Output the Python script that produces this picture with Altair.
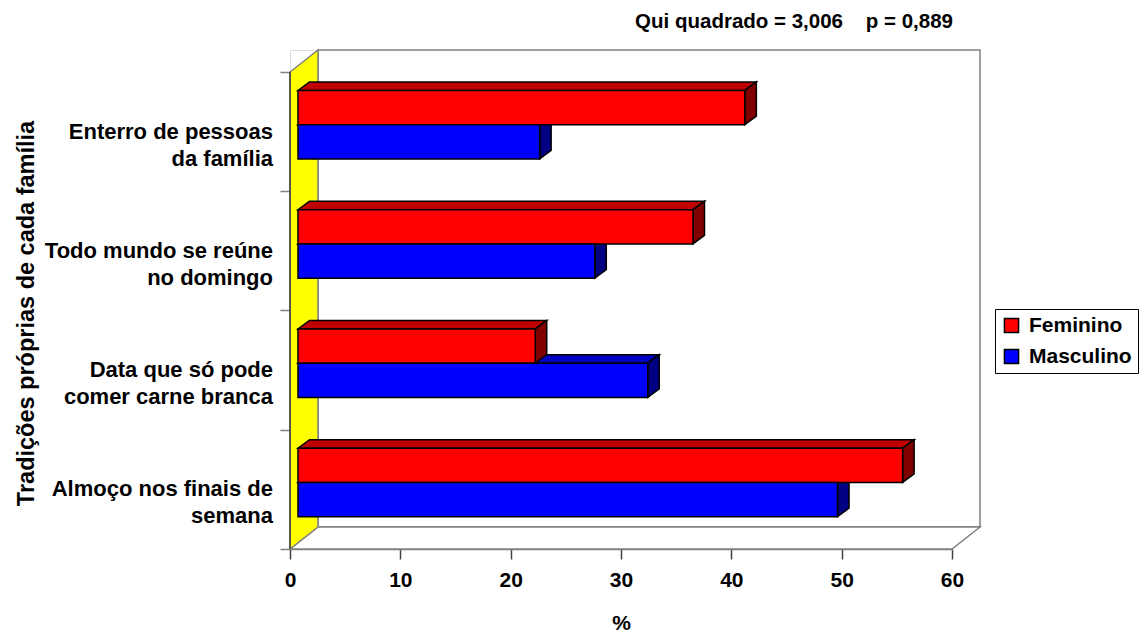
import altair as alt
import pandas as pd

# ---------------- data ----------------
categories = [
    "Enterro de pessoas\nda família",
    "Todo mundo se reúne\nno domingo",
    "Data que só pode\ncomer carne branca",
    "Almoço nos finais de\nsemana",
]
feminino = [40.5, 35.8, 21.5, 54.8]
masculino = [21.9, 26.9, 31.7, 48.9]
series = ["Feminino", "Masculino"]
x_ticks = [0, 10, 20, 30, 40, 50, 60]
title_text = "Qui quadrado = 3,006 \u00a0\u00a0\u00a0p = 0,889"

# ---------------- geometry (style) ----------------
W, H = 662, 499
PX_X = W / 60.0            # px per % unit
PX_Y = 119.25              # px per category band
Y_TOP = H / PX_Y
WALL_DX, WALL_DY = 28 / PX_X, 22 / PX_Y
BAR_DX, BAR_DY = 8 / PX_X, 7 / PX_Y
HALF = 34.25 / PX_Y
TOP_DX, TOP_DY = 11.5 / PX_X, 8.5 / PX_Y
F = "Liberation Sans"

n = len(categories)
front, tops_f, tops_m, sides_f, sides_m, labels = [], [], [], [], [], []


def top_face(v, yT, key):
    x0, x1 = BAR_DX, BAR_DX + v
    return [
        dict(id=key, x=x0, y=yT, y2=yT),
        dict(id=key, x=x0 + TOP_DX, y=yT, y2=yT + TOP_DY),
        dict(id=key, x=x1, y=yT, y2=yT + TOP_DY),
        dict(id=key, x=x1 + TOP_DX, y=yT + TOP_DY, y2=yT + TOP_DY),
    ]


def side_face(v, yB, yT, key):
    x1 = BAR_DX + v
    return [
        dict(id=key, x=x1, y=yB, y2=yT),
        dict(id=key, x=x1 + TOP_DX, y=yB + TOP_DY, y2=yT + TOP_DY),
    ]


for idx, cat in enumerate(categories):
    i = n - 1 - idx
    c = i + 0.5 + BAR_DY
    fv, mv = feminino[idx], masculino[idx]
    front.append(dict(s=series[0], x=BAR_DX, x2=BAR_DX + fv, y=c, y2=c + HALF))
    front.append(dict(s=series[1], x=BAR_DX, x2=BAR_DX + mv, y=c - HALF, y2=c))
    tops_f += top_face(fv, c + HALF, f"f{idx}")
    sides_f += side_face(fv, c, c + HALF, f"f{idx}")
    tops_m += top_face(mv, c, f"m{idx}")
    sides_m += side_face(mv, c - HALF, c, f"m{idx}")
    labels.append(dict(label=cat, x=0, y=i + 0.5))

xscale = alt.Scale(domain=[0, 60], nice=False, zero=False)
yscale = alt.Scale(domain=[0, Y_TOP], nice=False, zero=False)

xaxis = alt.Axis(values=x_ticks, title="%", grid=False, format="d",
                 domainColor="#808080", domainWidth=1.5,
                 tickColor="#404040", tickSize=10, tickWidth=1.5,
                 labelFont=F, labelFontSize=21, labelFontWeight="bold",
                 labelColor="black", labelPadding=10, labelFlush=False,
                 labelOverlap=False,
                 titleFont=F, titleFontSize=21, titleFontWeight="bold",
                 titleColor="black", titlePadding=22)
yaxis = alt.Axis(values=[0, 1, 2, 3, 4], labels=False, domain=False, grid=False,
                 tickColor="#808080", tickSize=10, tickWidth=1.5,
                 title="Tradições próprias de cada família",
                 titleFont=F, titleFontSize=23.5, titleFontWeight="bold",
                 titleColor="black", titleX=-252, titleY=263, titleAngle=270)

X = alt.X("x:Q", scale=xscale, axis=xaxis)
Y = alt.Y("y:Q", scale=yscale, axis=yaxis, stack=False)


def area_layer(rows, fill, stroke="black", sw=1.5):
    return alt.Chart(pd.DataFrame(rows)).mark_area(
        orient="vertical", fill=fill, stroke=stroke, strokeWidth=sw,
        fillOpacity=1, opacity=1, interpolate="linear"
    ).encode(x=X, y=Y, y2="y2:Q", detail="id:N")


back_wall = alt.Chart(pd.DataFrame([dict(x=WALL_DX, x2=60 + WALL_DX, y=WALL_DY, y2=Y_TOP)])).mark_rect(
    fill="white", stroke="#808080", strokeWidth=1.5
).encode(x=X, x2="x2:Q", y=Y, y2="y2:Q")

floor = area_layer([
    dict(id="floor", x=0, y=0, y2=0),
    dict(id="floor", x=WALL_DX, y=0, y2=WALL_DY),
    dict(id="floor", x=60, y=0, y2=WALL_DY),
    dict(id="floor", x=60 + WALL_DX, y=WALL_DY, y2=WALL_DY),
], "white", stroke="#808080")

side_wall = area_layer([
    dict(id="wall", x=0, y=0, y2=4),
    dict(id="wall", x=WALL_DX, y=WALL_DY, y2=4 + WALL_DY),
], "#FFFF00", stroke="#808080")

left_axis = alt.Chart(pd.DataFrame([dict(x=0, y=0, y2=4)])).mark_rule(
    color="#404040", strokeWidth=1.5
).encode(x=X, y=Y, y2="y2:Q")

front_bars = alt.Chart(pd.DataFrame(front)).mark_rect(
    stroke="black", strokeWidth=1.5
).encode(
    x=X, x2="x2:Q", y=Y, y2="y2:Q",
    color=alt.Color("s:N", scale=alt.Scale(domain=series, range=["#FF0000", "#0000FF"]),
                    legend=alt.Legend(title=None, orient="none", legendX=705, legendY=259,
                                      direction="vertical", symbolType="square",
                                      symbolSize=200, symbolStrokeColor="black",
                                      symbolStrokeWidth=1.5, labelFont=F,
                                      labelFontSize=21, labelFontWeight="bold",
                                      labelColor="black", labelOffset=7,
                                      rowPadding=9, padding=6, strokeColor="black",
                                      fillColor="white")),
)

cat_text = alt.Chart(pd.DataFrame(labels)).mark_text(
    align="right", baseline="middle", dx=-17, font=F, fontSize=22,
    fontWeight="bold", color="black", lineBreak="\n", lineHeight=27
).encode(x=X, y=Y, text="label:N")

title_mark = alt.Chart(pd.DataFrame([dict(t=title_text)])).mark_text(
    align="right", baseline="alphabetic", font=F, fontSize=20.5,
    fontWeight="bold", color="black"
).encode(x=alt.value(W + 1), y=alt.value(-22), text="t:N")

chart = alt.layer(
    back_wall, floor, side_wall, left_axis,
    area_layer(tops_m, "#0000C0"), area_layer(sides_m, "#000080"),
    area_layer(tops_f, "#C00000"), area_layer(sides_f, "#800000"),
    front_bars, cat_text, title_mark,
).properties(
    width=W, height=H,
    autosize=alt.AutoSizeParams(type="none"),
    padding={"left": 290, "top": 50, "right": 189, "bottom": 85},
).configure_view(stroke="transparent").configure(background="white").configure_legend(strokeWidth=1)

chart.save("out.html", embed_options={"renderer": "svg", "actions": False})
